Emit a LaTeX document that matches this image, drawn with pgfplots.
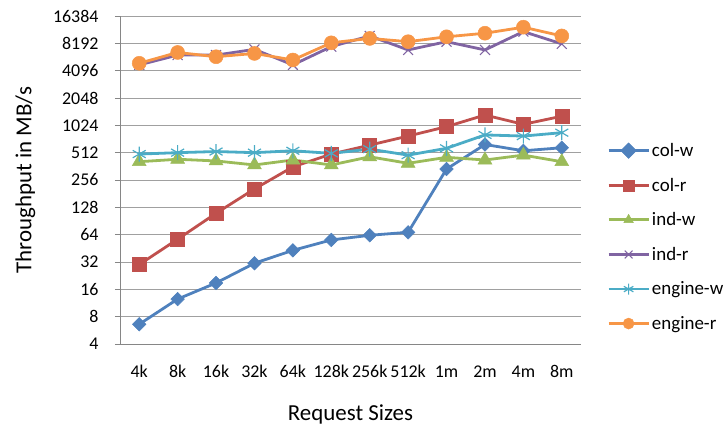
\documentclass[border=0pt]{standalone}
\usepackage{fontspec}
\setmainfont{Carlito}
\usepackage{pgfplots}
\pgfplotsset{compat=1.18}
\definecolor{cb}{HTML}{4F81BD}
\definecolor{cr}{HTML}{C0504D}
\definecolor{cg}{HTML}{9BBB59}
\definecolor{cp}{HTML}{8064A2}
\definecolor{ct}{HTML}{4BACC6}
\definecolor{co}{HTML}{F79646}
\definecolor{gridc}{HTML}{A0A0A0}
\definecolor{axc}{HTML}{868686}
\begin{document}
\begin{tikzpicture}
\useasboundingbox (0bp,0bp) rectangle (728bp,429bp);
\begin{axis}[
  at={(120bp,85bp)}, anchor=south west,
  scale only axis, width=461bp, height=328bp,
  xmin=-0.5, xmax=11.5,
  ymode=log, log basis y=2, ymin=4, ymax=16384,
  ytick={4,8,16,32,64,128,256,512,1024,2048,4096,8192,16384},
  yticklabels={4,8,16,32,64,128,256,512,1024,2048,4096,8192,16384},
  xtick={0,...,11},
  xticklabels={4k,8k,16k,32k,64k,128k,256k,512k,1m,2m,4m,8m},
  extra x ticks={-0.5,0.5,...,11.5},
  extra x tick labels={},
  extra x tick style={major tick length=5bp, tick style={draw=axc, line width=0.8bp}, tick align=outside, grid=none},
  axis x line*=bottom, axis y line*=left,
  axis line style={draw=axc, line width=0.8bp, -},
  x axis line style={-}, y axis line style={-},
  ymajorgrids, grid style={draw=gridc, line width=0.8bp},
  major x tick style={draw=none},
  major y tick style={draw=axc, line width=0.8bp},
  tick align=outside, major tick length=5bp,
  ticklabel style={font=\fontsize{18}{20}\selectfont},
  yticklabel style={xshift=-13bp},
  xticklabel style={yshift=-13bp},
  xlabel={Request Sizes}, ylabel={Throughput in MB/s},
  label style={font=\fontsize{23}{26}\selectfont},
  xlabel style={at={(axis description cs:0.5,-0.216)}, anchor=center},
  ylabel style={at={(axis description cs:-0.205,0.5)}, anchor=center},
  every axis plot/.append style={line width=2.8bp},
  legend style={at={(1,0.326)}, anchor=west, xshift=26bp, draw=none, fill=none,
    font=\fontsize{19}{21}\selectfont, row sep=16bp, inner sep=0pt},
  legend cell align=left,
  legend image code/.code={\draw[mark repeat=2,mark phase=2, mark size=5.5bp] plot coordinates {(0bp,0bp)(20bp,0bp)(40bp,0bp)};},
  clip=false,
]
\addplot[cb, mark=square*, mark size=4.8bp, mark options={rotate=45, solid, line width=0.5bp}] coordinates {
(0,6.6)(1,12.5)(2,18.8)(3,31)(4,43)(5,56)(6,63)(7,68)(8,338)(9,630)(10,537)(11,580)};
\addlegendentry{col-w}
\addplot[cr, mark=square*, mark size=7bp, mark options={line width=0.5bp}] coordinates {
(0,30)(1,57)(2,110)(3,204)(4,357)(5,494)(6,620)(7,780)(8,990)(9,1330)(10,1050)(11,1290)};
\addlegendentry{col-r}
\addplot[cg, mark=triangle*, mark size=8bp, mark options={line width=0.5bp}] coordinates {
(0,407)(1,433)(2,415)(3,375)(4,425)(5,375)(6,461)(7,391)(8,455)(9,425)(10,481)(11,407)};
\addlegendentry{ind-w}
\addplot[cp, mark=x, mark size=7bp, mark options={line width=1.1bp}] coordinates {
(0,4740)(1,6080)(2,6080)(3,7030)(4,4740)(5,7540)(6,9880)(7,6930)(8,8540)(9,6930)(10,11030)(11,8080)};
\addlegendentry{ind-r}
\addplot[ct, mark=asterisk, mark size=7.5bp, mark options={line width=1.2bp}] coordinates {
(0,494)(1,512)(2,527)(3,512)(4,537)(5,503)(6,560)(7,481)(8,572)(9,803)(10,780)(11,850)};
\addlegendentry{engine-w}
\addplot[co, mark=*, mark size=7bp, mark options={line width=0.5bp}] coordinates {
(0,4940)(1,6500)(2,5830)(3,6340)(4,5370)(5,8300)(6,9280)(7,8540)(8,9670)(9,10580)(10,12330)(11,9880)};
\addlegendentry{engine-r}
\end{axis}
\end{tikzpicture}
\end{document}
